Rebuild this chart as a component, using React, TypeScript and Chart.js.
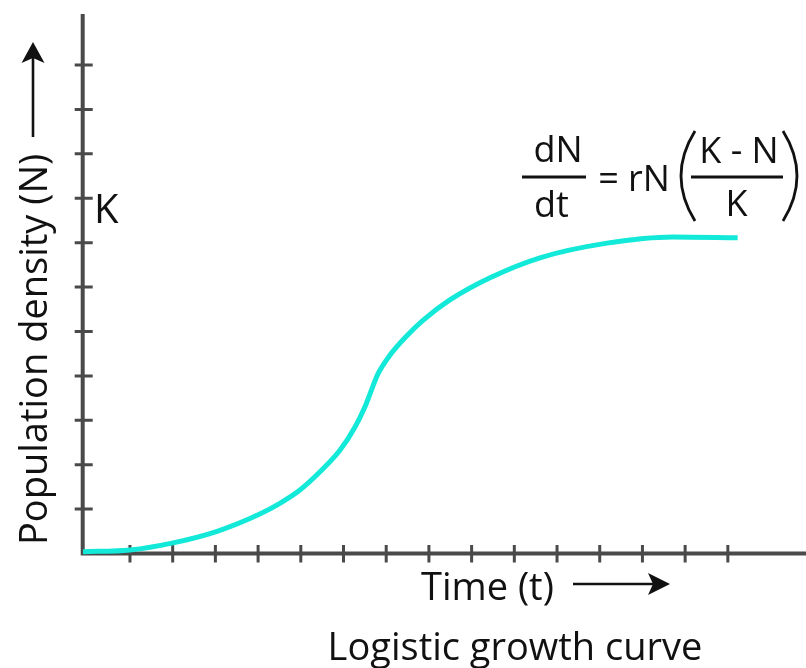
import React, { useEffect, useRef } from 'react';
import { Chart, registerables } from 'chart.js';

Chart.register(...registerables);

// ---- data ----
const timeValues = [-0.1, 1.0, 2.01, 3.04, 4.04, 4.51, 4.98, 5.45, 5.92, 6.27, 6.5, 6.67, 6.81, 7.09, 7.49, 7.86, 8.49, 9.43, 10.6, 12.17, 13.71, 15.23];
const densityValues = [0.04, 0.08, 0.24, 0.5, 0.89, 1.13, 1.43, 1.84, 2.33, 2.85, 3.3, 3.72, 4.05, 4.47, 4.91, 5.25, 5.71, 6.21, 6.66, 6.99, 7.13, 7.11];

const xTickValues = [1, 2, 3, 4, 5, 6, 7, 8, 9, 10, 11, 12, 13, 14, 15];
const yTickValues = [1, 2, 3, 4, 5, 6, 7, 8, 9, 10, 11];

const X_MIN = -0.107;
const X_MAX = 16.83;
const Y_MIN = 0;
const Y_MAX = 12.15;

// ---- text ----
const yAxisTitle = 'Population density (N)';
const xAxisTitle = 'Time (t)';
const chartTitle = 'Logistic growth curve';
const carryingCapacityLabel = 'K';
const eqLeftNum = 'dN';
const eqLeftDen = 'dt';
const eqEquals = '=';
const eqRate = 'rN';
const eqRightNum = 'K - N';
const eqRightDen = 'K';

const AXIS_COLOR = '#4a4a4a';
const CURVE_COLOR = '#12e9d8';
const TEXT_COLOR = '#111111';
const FONT = '"Open Sans", "Noto Sans", sans-serif';

function arrowHead(ctx: CanvasRenderingContext2D, pts: number[][]) {
  ctx.beginPath();
  ctx.moveTo(pts[0][0], pts[0][1]);
  for (let i = 1; i < pts.length; i++) ctx.lineTo(pts[i][0], pts[i][1]);
  ctx.closePath();
  ctx.fill();
}

const decorPlugin = {
  id: 'logisticDecor',
  beforeDatasetsDraw(chart: any) {
    const ctx: CanvasRenderingContext2D = chart.ctx;
    const { left, right, top, bottom } = chart.chartArea;
    const xs = chart.scales.x;
    const ys = chart.scales.y;
    ctx.save();
    ctx.strokeStyle = AXIS_COLOR;
    ctx.lineCap = 'butt';
    // axes
    ctx.lineWidth = 4;
    ctx.beginPath();
    ctx.moveTo(left, top);
    ctx.lineTo(left, bottom + 2);
    ctx.moveTo(left - 2, bottom);
    ctx.lineTo(right, bottom);
    ctx.stroke();
    // ticks (crossing the axis)
    ctx.lineWidth = 3;
    ctx.beginPath();
    xTickValues.forEach((v) => {
      const px = xs.getPixelForValue(v);
      ctx.moveTo(px, bottom - 8.5);
      ctx.lineTo(px, bottom + 9);
    });
    yTickValues.forEach((v) => {
      const py = ys.getPixelForValue(v);
      ctx.moveTo(left - 8, py);
      ctx.lineTo(left + 10, py);
    });
    ctx.stroke();
    ctx.restore();
  },
  afterDraw(chart: any) {
    const ctx: CanvasRenderingContext2D = chart.ctx;
    ctx.save();
    ctx.fillStyle = TEXT_COLOR;
    ctx.strokeStyle = TEXT_COLOR;
    ctx.textBaseline = 'alphabetic';

    // y-axis title (rotated) + arrow
    ctx.save();
    ctx.translate(47, 545);
    ctx.rotate(-Math.PI / 2);
    ctx.font = `38px ${FONT}`;
    ctx.textAlign = 'left';
    ctx.fillText(yAxisTitle, 0, 0);
    ctx.restore();
    ctx.lineWidth = 2.6;
    ctx.beginPath();
    ctx.moveTo(33, 137);
    ctx.lineTo(33, 56);
    ctx.stroke();
    arrowHead(ctx, [[33, 42], [44.5, 63], [33, 58], [21.5, 63]]);

    // x-axis title + arrow
    ctx.font = `38px ${FONT}`;
    ctx.textAlign = 'left';
    ctx.fillText(xAxisTitle, 421, 600);
    ctx.beginPath();
    ctx.moveTo(573, 584);
    ctx.lineTo(656, 584);
    ctx.stroke();
    arrowHead(ctx, [[670, 584], [648, 573], [653, 584], [648, 595]]);

    // chart title at bottom
    ctx.textAlign = 'center';
    ctx.fillText(chartTitle, 515, 660);

    // K label
    ctx.font = `40px ${FONT}`;
    ctx.textAlign = 'left';
    ctx.fillText(carryingCapacityLabel, 94, 223);

    // equation
    ctx.font = `36px ${FONT}`;
    ctx.textAlign = 'center';
    ctx.fillText(eqLeftNum, 558, 162);
    ctx.fillText(eqLeftDen, 551.5, 217);
    ctx.fillText(eqEquals, 608.5, 191);
    ctx.textAlign = 'left';
    ctx.fillText(eqRate, 628, 191);
    ctx.textAlign = 'center';
    ctx.fillText(eqRightNum, 739, 163);
    ctx.fillText(eqRightDen, 736.5, 216);
    ctx.lineWidth = 3;
    ctx.beginPath();
    ctx.moveTo(522, 177);
    ctx.lineTo(586, 177);
    ctx.moveTo(691, 177);
    ctx.lineTo(783, 177);
    ctx.stroke();
    ctx.lineWidth = 2.8;
    ctx.beginPath();
    ctx.moveTo(695, 131);
    ctx.quadraticCurveTo(667, 176, 695, 221);
    ctx.moveTo(783, 131);
    ctx.quadraticCurveTo(811, 176, 783, 221);
    ctx.stroke();

    ctx.restore();
  },
};

export default function App() {
  const canvasRef = useRef<HTMLCanvasElement | null>(null);

  useEffect(() => {
    let chart: Chart | null = null;
    let cancelled = false;
    const build = () => {
      if (cancelled || !canvasRef.current) return;
      chart = new Chart(canvasRef.current, {
        type: 'line',
        data: {
          datasets: [
            {
              data: timeValues.map((t, i) => ({ x: t, y: densityValues[i] })),
              borderColor: CURVE_COLOR,
              borderWidth: 5,
              pointRadius: 0,
              fill: false,
              cubicInterpolationMode: 'monotone',
              clip: false as any,
            },
          ],
        },
        options: {
          animation: false,
          responsive: false,
          devicePixelRatio: 1,
          layout: { padding: { left: 82.7, top: 14, right: 0, bottom: 114.5 } },
          scales: {
            x: { type: 'linear', min: X_MIN, max: X_MAX, display: false },
            y: { type: 'linear', min: Y_MIN, max: Y_MAX, display: false },
          },
          plugins: {
            legend: { display: false },
            tooltip: { enabled: false },
            title: { display: false },
          },
        },
        plugins: [decorPlugin],
      });
    };
    const fontsReady = (document as any).fonts
      ? Promise.all([
          (document as any).fonts.load(`38px "Open Sans"`),
          (document as any).fonts.load(`36px "Open Sans"`),
        ]).catch(() => null)
      : Promise.resolve(null);
    fontsReady.then(build);
    return () => {
      cancelled = true;
      if (chart) chart.destroy();
    };
  }, []);

  return (
    <div style={{ position: 'absolute', left: 0, top: 0, width: 806, height: 668, background: '#ffffff' }}>
      <canvas ref={canvasRef} width={806} height={668} style={{ display: 'block', width: 806, height: 668 }} />
    </div>
  );
}
